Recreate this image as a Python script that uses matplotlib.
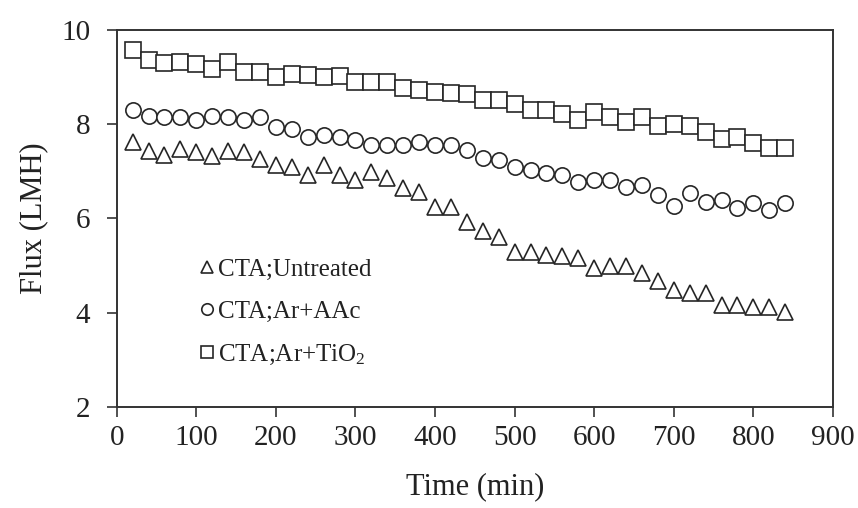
import matplotlib
matplotlib.use("Agg")
import matplotlib.pyplot as plt

plt.rcParams['font.family'] = ['Liberation Serif', 'DejaVu Serif']
plt.rcParams['mathtext.fontset'] = 'custom'
plt.rcParams['mathtext.rm'] = 'Liberation Serif'
plt.rcParams['mathtext.it'] = 'Liberation Serif:italic'

time_min = [20, 40, 60, 80, 100, 120, 140, 160, 180, 200, 220, 240, 260, 280,
            300, 320, 340, 360, 380, 400, 420, 440, 460, 480, 500, 520, 540, 560,
            580, 600, 620, 640, 660, 680, 700, 720, 740, 760, 780, 800, 820, 840]

flux_untreated = [7.63, 7.42, 7.35, 7.47, 7.40, 7.32, 7.42, 7.40, 7.25, 7.13,
                  7.10, 6.92, 7.13, 6.92, 6.82, 6.99, 6.85, 6.64, 6.57, 6.25,
                  6.25, 5.93, 5.73, 5.61, 5.29, 5.29, 5.22, 5.19, 5.15, 4.94,
                  4.99, 4.98, 4.84, 4.66, 4.48, 4.41, 4.41, 4.16, 4.16, 4.12,
                  4.12, 4.02]

flux_aac = [8.30, 8.18, 8.16, 8.16, 8.09, 8.17, 8.15, 8.09, 8.16, 7.95,
            7.89, 7.73, 7.76, 7.72, 7.66, 7.56, 7.56, 7.56, 7.63, 7.56,
            7.56, 7.46, 7.29, 7.24, 7.10, 7.03, 6.96, 6.92, 6.78, 6.82,
            6.82, 6.67, 6.71, 6.50, 6.27, 6.53, 6.35, 6.39, 6.21, 6.32,
            6.17, 6.32]

flux_tio2 = [9.58, 9.36, 9.29, 9.31, 9.27, 9.17, 9.33, 9.10, 9.10, 9.00,
             9.06, 9.04, 9.00, 9.03, 8.90, 8.89, 8.89, 8.76, 8.73, 8.69,
             8.66, 8.65, 8.51, 8.51, 8.42, 8.30, 8.30, 8.21, 8.09, 8.25,
             8.16, 8.05, 8.16, 7.97, 8.00, 7.97, 7.83, 7.69, 7.73, 7.59,
             7.49, 7.50]

labels = ['CTA;Untreated', 'CTA;Ar+AAc', r'CTA;Ar+TiO$_2$']
x_ticks = [0, 100, 200, 300, 400, 500, 600, 700, 800, 900]
y_ticks = [2, 4, 6, 8, 10]

W, H = 858, 508
fig = plt.figure(figsize=(W / 100, H / 100), dpi=100)
ax_l, ax_r, ax_t, ax_b = 116.7, 833.0, 30.0, 406.7
ax = fig.add_axes([ax_l / W, 1 - ax_b / H, (ax_r - ax_l) / W, (ax_b - ax_t) / H])

edge = '#262626'
common = dict(linestyle='none', markerfacecolor='white', markeredgecolor=edge,
              markeredgewidth=1.2)
ax.plot(time_min, flux_untreated, marker='^', markersize=12, label=labels[0], **common)
ax.plot(time_min, flux_aac, marker='o', markersize=11, label=labels[1], **common)
ax.plot(time_min, flux_tio2, marker='s', markersize=11.5, label=labels[2], **common)

ax.set_xlim(0, 900)
ax.set_ylim(2, 10)
ax.set_xticks(x_ticks)
ax.set_yticks(y_ticks)

for s in ax.spines.values():
    s.set_linewidth(1.4)
    s.set_color('#333333')
ax.tick_params(axis='both', direction='out', length=7, width=1.2, color='#333333',
               labelsize=21, labelcolor='#222222')
ax.tick_params(axis='x', pad=6)
ax.tick_params(axis='y', pad=12)

ax.set_xlabel('Time (min)', fontsize=22, color='#222222')
ax.set_ylabel('Flux (LMH)', fontsize=22, color='#222222')
ax.xaxis.set_label_coords(0.5, -0.175)
ax.yaxis.set_label_coords(-0.096, 0.5)

handles, lbls = ax.get_legend_handles_labels()
leg = ax.legend(handles, lbls, loc='center left', bbox_to_anchor=(0.098, 0.25),
                frameon=False, fontsize=18, markerscale=0.75, handlelength=0.6,
                handletextpad=0.15, labelspacing=0.8, borderpad=0)
for t in leg.get_texts():
    t.set_color('#222222')

fig.savefig('out.png', dpi=100)
